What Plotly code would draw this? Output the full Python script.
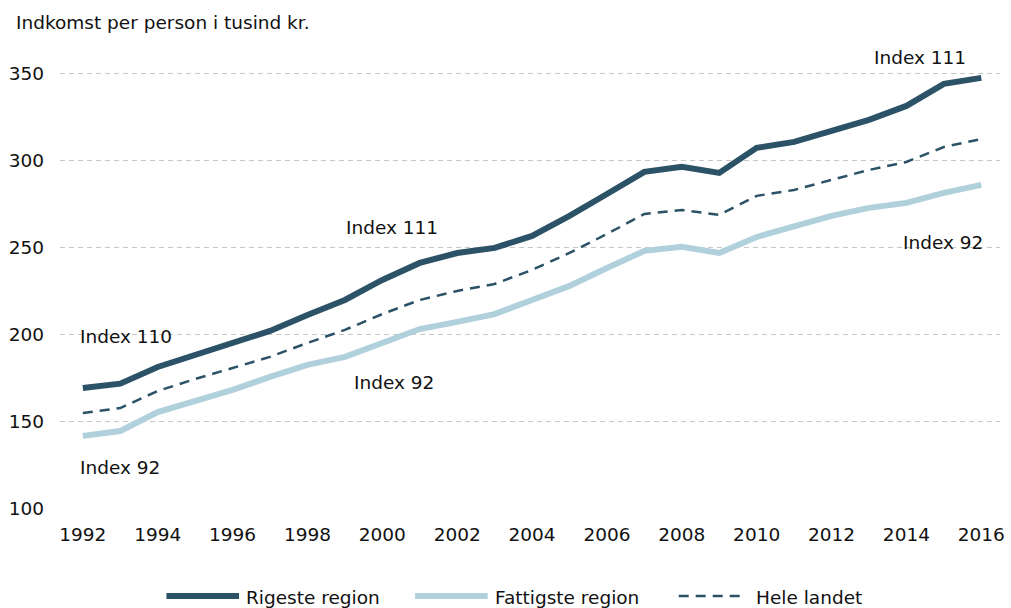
import plotly.graph_objects as go

years = list(range(1992, 2017))

rigeste = [169.5, 172, 181.6, 188.5, 194.8, 202.3, 211.5, 220.1, 231.6, 241.4,
           247.1, 250, 256.9, 268.4, 281, 293.7, 296.6, 293.1, 307.5, 310.9,
           317.2, 323.6, 331.6, 344.3, 347.7]
fattigste = [142, 144.8, 155.7, 162, 168.4, 175.9, 182.8, 187.4, 195.4, 203.4,
             207.5, 212, 220.1, 228.2, 238.5, 248.3, 250.6, 247.1, 256.3, 262.1,
             268.4, 273, 275.9, 281.6, 286.2]
hele_landet = [155.2, 158, 167.8, 174.7, 181, 187.4, 195.4, 202.9, 212, 220.1,
               225.3, 229.3, 237.4, 247.1, 258, 269.5, 271.8, 269, 279.9, 283.3,
               289.1, 294.8, 299.4, 308, 312.6]

series_names = ["Rigeste region", "Fattigste region", "Hele landet"]
x_ticks = list(range(1992, 2017, 2))
y_ticks = [100, 150, 200, 250, 300, 350]

DARK = "#2c5267"
LIGHT = "#b0d1dc"
TEXT = "#111111"
FONT = "DejaVu Sans, Verdana, sans-serif"
FS = 18.5

W, H = 1011, 608
ML, MR, MT, MB = 60, 6, 53, 99
PW = W - ML - MR
PH = H - MT - MB

styles = [
    dict(color=DARK, width=6),
    dict(color=LIGHT, width=6),
    dict(color=DARK, width=2.5, dash="10px,7px"),
]

fig = go.Figure()
for name, vals, st in zip(series_names, [rigeste, fattigste, hele_landet], styles):
    fig.add_trace(go.Scatter(x=years, y=vals, mode="lines", name=name,
                             line=st, showlegend=False))

# Index labels placed next to the lines
labels = [
    ("Index 110", 1991.87, 199.4, "left"),
    ("Index 92", 1991.87, 124.1, "left"),
    ("Index 111", 1998.97, 261.5, "left"),
    ("Index 92", 1999.18, 172.4, "left"),
    ("Index 111", 2013.09, 359.2, "left"),
    ("Index 92", 2016.1, 252.9, "right"),
]
for text, lx, ly, anchor in labels:
    fig.add_annotation(x=lx, y=ly, text=text, showarrow=False, xanchor=anchor,
                       yanchor="middle", font=dict(size=FS, color=TEXT, family=FONT))

# axis title above the value axis
fig.add_annotation(x=0, xref="paper", xanchor="left", xshift=-46, y=1, yref="paper",
                   yanchor="middle", yshift=31, text="Indkomst per person i tusind kr.",
                   showarrow=False, font=dict(size=FS, color=TEXT, family=FONT))


# legend row below the chart, drawn in paper coordinates
def px_x(p):
    return (p - ML) / PW


def px_y(p):
    return (H - MB - p) / PH


legend_row = 596
legend_items = [(167, 240, 245), (417, 490, 495), (682, 750, 758)]
for (x0, x1, tx), name, st in zip(legend_items, series_names, styles):
    fig.add_shape(type="line", xref="paper", yref="paper",
                  x0=px_x(x0), x1=px_x(x1), y0=px_y(legend_row), y1=px_y(legend_row),
                  line=st)
    fig.add_annotation(x=px_x(tx), y=px_y(legend_row + 1), xref="paper", yref="paper",
                       xanchor="left", yanchor="middle", text=name, showarrow=False,
                       font=dict(size=FS, color=TEXT, family=FONT))

fig.update_layout(
    width=W, height=H,
    margin=dict(l=ML, r=MR, t=MT, b=MB),
    paper_bgcolor="white", plot_bgcolor="white",
    font=dict(family=FONT, size=FS, color=TEXT),
    showlegend=False,
    xaxis=dict(range=[1991.39, 2016.5], tickvals=x_ticks, showgrid=False,
               zeroline=False, showline=False, ticks="", ticklabelstandoff=12,
               tickfont=dict(size=FS)),
    yaxis=dict(range=[100, 362], tickvals=y_ticks, showgrid=True,
               gridcolor="#c6c6c6", griddash="5px,4px", gridwidth=1,
               zeroline=False, showline=False, ticks="", ticklabelstandoff=15,
               tickfont=dict(size=FS)),
)

fig.write_html("out.html")
